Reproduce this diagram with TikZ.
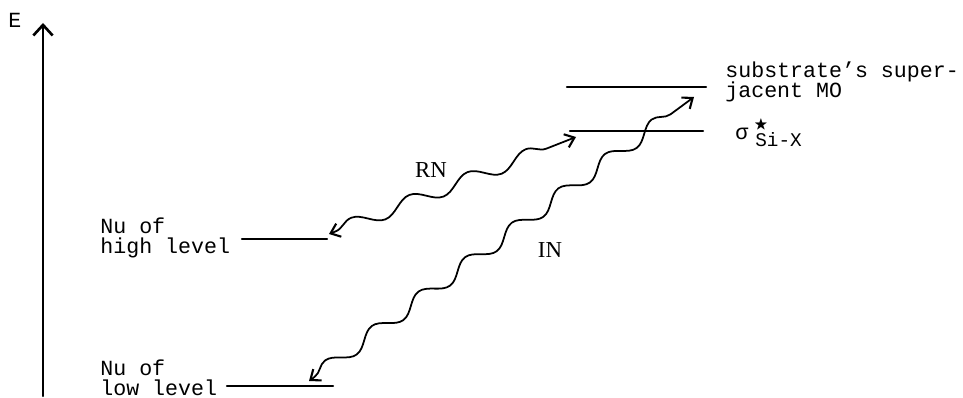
\documentclass[tikz,border=0pt]{standalone}
\usepackage{amsmath,amssymb}
\usepackage{fontspec}
\setmainfont{Liberation Mono}
\newfontfamily\labelserif{Liberation Serif}
\usetikzlibrary{arrows.meta,decorations.pathmorphing}
\tikzset{
  level/.style={line width=1.3},
  levtext/.style={anchor=base west, align=left, inner sep=0, font=\fontsize{12.3}{11.6}\selectfont},
  subtext/.style={anchor=base west, inner sep=0, font=\fontsize{11}{11}\selectfont},
  wave/.style={line width=1, {Straight Barb[length=5pt,width=8pt,line width=1.2]}-{Straight Barb[length=5pt,width=8pt,line width=1.2]},
    decorate, decoration={snake, segment length=#1, amplitude=0.14cm, pre length=4pt, post length=4pt}},
  wname/.style={font=\labelserif\fontsize{13}{13}\selectfont, inner sep=0}
}

\begin{document}
\begin{tikzpicture}[x=0.02cm, y=-0.02cm, line cap=round, line join=round]
  \useasboundingbox (0,0) rectangle (963,398);
  % energy axis
  \coordinate (ebot) at (43,396);
  \coordinate (etop) at (43,23);
  \draw[line width=1.4, -{Straight Barb[length=6pt,width=11pt,line width=1.5]}] (ebot) -- (etop);
  \node[levtext] (elabel) at (8,28) {E};
  % levels
  \draw[level] (567,87) -- (706,87);
  \draw[level] (570,131) -- (703,131);
  \draw[level] (242,239) -- (327,239);
  \draw[level] (227,386) -- (333,386);
  % level texts
  \node[levtext] (supmo) at (725,98) {substrate's super-\\jacent MO};
  \node[levtext] (sigma) at (735,140) {σ};
  \node[subtext] (sisub) at (755,147) {Si-X};
  \node[inner sep=0, font=\footnotesize] (sistar) at (761,125) {$\bigstar$};
  \node[levtext] (nuhigh) at (100,254) {Nu of\\high level};
  \node[levtext] (nulow) at (100,396) {Nu of\\low level};
  % wavy arrows
  \coordinate (rnhi) at (576,137);
  \coordinate (rnlo) at (329,234);
  \coordinate (inhi) at (694,97);
  \coordinate (inlo) at (309,381);
  \draw[wave=1.25cm] (rnlo) -- (rnhi);
  \draw[wave=1.16cm] (inlo) -- (inhi);
  \node[wname] (rn) at (431,170) {RN};
  \node[wname] (in) at (550,250) {IN};
\end{tikzpicture}
\end{document}
